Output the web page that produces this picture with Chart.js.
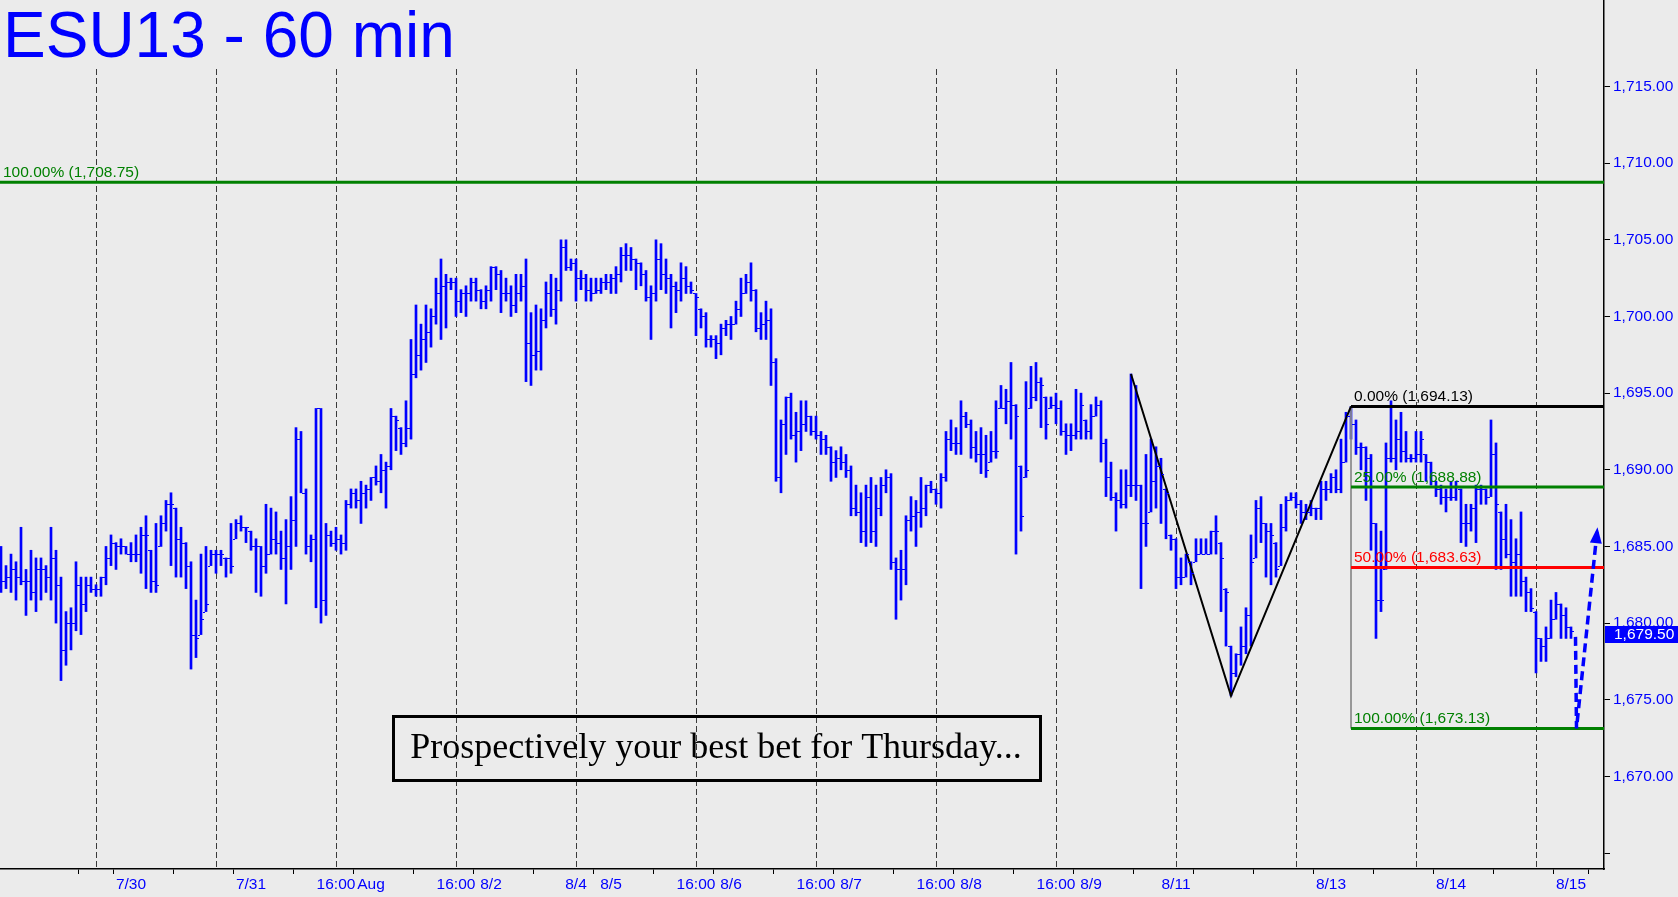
<!DOCTYPE html>
<html>
<head>
<meta charset="utf-8">
<script src="https://cdn.jsdelivr.net/npm/chart.js@4.4.0/dist/chart.umd.min.js"></script>
<style>
  html, body { margin:0; padding:0; background:#ebebeb; }
  #wrap { width:1678px; height:897px; }
</style>
</head>
<body>
<div id="wrap"><canvas id="chartCanvas" width="1678" height="897"></canvas></div>
<script>
// hourly OHLC, ESU13, bar index 0..314
const highs = [1685,1683.75,1684.5,1684,1686.25,1683.5,1684.75,1684.25,1684.25,1683.75,
1686.25,1684.75,1683,1680.75,1681,1684,1683,1683,1683,1682.5,
1683,1685,1685.75,1685.25,1685.5,1685,1685.25,1685.75,1686.25,1687,
1684.75,1686.5,1687,1688,1688.5,1687.5,1686.25,1685.25,1684,1681.5,
1684.5,1685,1684.75,1684.75,1684.75,1684.25,1686.5,1686.75,1687,1686.25,
1686,1685.5,1685,1687.75,1687.5,1687.25,1686,1686.75,1688.25,1692.75,
1692.5,1688.75,1685.75,1694,1694,1686.5,1686,1686.25,1685.75,1688,
1688.75,1688.75,1689.25,1689,1689.5,1690.25,1691,1690.5,1694,1693.5,
1692.75,1694.5,1698.5,1700.75,1699.5,1700.75,1700.5,1702.5,1703.75,1702.75,
1702.5,1702.5,1701.75,1702,1702.5,1702.5,1701.75,1702,1703.25,1703.25,
1703,1702.5,1702,1702.75,1702.75,1703.75,1700.25,1700.75,1700.5,1702.25,
1702.75,1702.5,1705,1705,1703.75,1703.75,1703,1702.75,1702.5,1702.5,
1702.5,1702.75,1702.75,1703.25,1704.5,1704.75,1704.5,1703.75,1703.5,1703,
1702,1705,1704.75,1703.75,1702.75,1702.25,1703.5,1703.25,1702.25,1701.5,
1700.5,1700.25,1698.75,1698.75,1699.5,1699.75,1700,1701,1702.5,1702.75,
1703.5,1701.75,1700.25,1701,1700.5,1697.25,1693.25,1694.75,1695,1693.75,
1694.5,1694.5,1693.5,1693.5,1692.5,1692.25,1691.5,1691.25,1691.5,1691,
1690.25,1689,1688.5,1689,1689.5,1689,1689.5,1690,1689.75,1684.25,
1684.75,1687,1688.25,1688,1689.5,1689,1689.25,1688.75,1689.75,1692.5,
1693.25,1692.75,1694.5,1693.75,1693.25,1692.5,1692.75,1692.25,1692.5,1694.5,
1695.5,1695.25,1697,1694.25,1690.25,1695.75,1696.75,1697,1696,1694.75,
1694.75,1695,1694.5,1693,1693,1695.25,1695,1693.25,1694.25,1694.75,
1694.5,1692,1690.5,1688.5,1690,1690,1696.25,1695.5,1689,1691,
1692,1691.5,1690.75,1688.75,1685.75,1685.5,1684.25,1684.5,1684,1685.5,
1685.5,1685.5,1686,1687,1685.25,1682.25,1678.5,1678,1679.75,1681,
1685.75,1688,1688.25,1686.5,1686.5,1685.25,1687.75,1688.25,1688.5,1688.5,
1688,1687.75,1688,1687.5,1689.25,1689.25,1689.75,1690,1692,1693.75,
1694.13,1693.25,1691.75,1691.5,1691,1686.5,1686,1691.75,1694.5,1693.25,
1693.75,1692.5,1691,1692.5,1692.5,1691,1690.5,1689.25,1689,1688.75,
1689.25,1689.25,1688.75,1687.75,1687.75,1689,1689,1688.75,1693.25,1691.75,
1687.25,1687.75,1686.75,1685.5,1687.25,1683,1682.25,1680.75,1679,1679.75,
1681.5,1682,1681.25,1681,1679.75];

const lows = [1682,1682.25,1682,1681.5,1682.5,1680.5,1681.5,1680.75,1681.5,1682,
1681.5,1680,1676.25,1677.25,1678.25,1679.5,1679.25,1680.75,1682,1681.75,
1681.75,1682.5,1683.75,1683.5,1684.5,1684.5,1684,1684,1683.25,1682.25,
1682,1682,1685,1686,1683.75,1683,1683,1682.25,1677,1677.75,
1679.25,1680.75,1683.75,1683.25,1683.75,1683,1683.25,1685.5,1686,1685.25,
1684.75,1682,1681.75,1683.25,1684.5,1684.5,1683.5,1681.25,1683.5,1685,
1688.5,1684.5,1684,1681,1680,1680.5,1685,1684.75,1684.5,1684.75,
1687.5,1687.5,1686.5,1687.5,1688,1689,1688.5,1687.5,1690,1691.25,
1691,1691.5,1692,1696,1696.5,1697,1698,1699.5,1698.5,1699.25,
1701.75,1700,1700.25,1700,1701,1701,1700.5,1700.5,1701,1701.75,
1700.25,1701,1700,1700.25,1701,1695.75,1695.5,1696.5,1696.5,1699.25,
1700,1699.5,1701,1703,1703,1701,1701.75,1701,1701,1701.5,
1701.5,1701.75,1701.5,1701.5,1702.25,1703,1703,1701.75,1702,1701,
1698.5,1701,1701.75,1701.5,1699.25,1700.25,1701,1701.5,1701.5,1698.75,
1699.25,1698,1698,1697.25,1697.5,1698.75,1698.5,1699.5,1700,1701.5,
1701,1699,1698.5,1698.5,1695.5,1689.25,1688.5,1691,1692,1690.5,
1691.25,1692.5,1692.25,1692,1691,1691,1689.25,1689.5,1690,1689.5,
1687,1687,1685.25,1685,1685.25,1685,1687,1688.5,1683.5,1680.25,
1681.5,1682.5,1686,1685,1686.25,1687,1688.5,1687.75,1687.5,1689.25,
1691.25,1691,1691,1692.75,1690.75,1690.5,1689.75,1689.5,1690.5,1690.75,
1694,1693,1692,1684.5,1686,1689.5,1694,1694.5,1692.75,1692,
1694,1693,1692.25,1691,1691.25,1692,1692,1692,1692,1693.5,
1690.5,1688.25,1688,1686,1687.5,1687.5,1688.25,1688,1682.25,1685,
1687.25,1687.5,1686.5,1685.5,1684.75,1682.25,1682.5,1683,1682.5,1684,
1684.5,1684.5,1684.5,1684.5,1680.75,1678.5,1675.25,1676.5,1677.25,1678,
1678.5,1684.25,1685.25,1683,1682.5,1683,1683.75,1686,1688,1687.5,
1686.5,1686.75,1687,1686.75,1686.75,1688,1688.5,1688.5,1688.5,1690.5,
1692,1691,1690,1688,1684.75,1679,1680.75,1683.5,1690.5,1690,
1690.5,1690.5,1690.5,1690.5,1690.5,1689.25,1689,1688.25,1687.75,1687.25,
1688,1688,1685.25,1685,1686,1685.25,1687.75,1687.75,1688.25,1683.5,
1683.5,1684.25,1681.75,1681.75,1681.75,1680.75,1680.75,1676.75,1677.5,1677.5,
1679,1680.25,1679,1679,1679];

const opens = [1684,1682.75,1683,1683.5,1683,1682.75,1682.75,1682,1683.5,1683.5,
1683,1684.25,1682.5,1678.25,1680,1680,1682.5,1681.25,1682.5,1682.25,
1682.25,1683,1684.25,1685.25,1685,1685,1684.5,1684.5,1684.5,1685.75,
1684.75,1682.75,1685,1686.5,1687.75,1687.5,1685.5,1685.25,1683.75,1679.25,
1679.25,1680.75,1683.75,1684.5,1684.5,1684.25,1684.25,1685.5,1686.5,1686.25,
1686,1685,1685,1683.75,1684.5,1685.5,1685.25,1684.25,1685,1686.75,
1692,1688.5,1685,1685.5,1694,1681.5,1685.75,1685.25,1685.5,1685.25,
1687.75,1688.5,1688,1688.5,1688.75,1689.5,1689.25,1690,1690.25,1693.5,
1692.75,1691.75,1692.75,1696.25,1697.5,1698.5,1699,1700,1701.5,1702,
1702.25,1702.25,1701,1701.5,1701.5,1702.25,1701.75,1701,1701.75,1703.25,
1702.75,1701.5,1701.5,1700.75,1701.5,1702,1698.25,1697.5,1697.75,1699.75,
1701.5,1700.5,1701.75,1704.5,1703.25,1703.5,1702.5,1702.5,1701.75,1701.5,
1701.75,1702.25,1702.25,1702.5,1702.75,1704,1704,1703.75,1703.5,1702.75,
1701.25,1701.5,1703.75,1702.75,1702.5,1702,1701.75,1702.5,1702,1701.5,
1700.5,1700,1698.5,1698.5,1698.25,1699.25,1699.5,1699.5,1700.5,1701.5,
1702.25,1701.75,1699.25,1699.5,1699.75,1697,1689.5,1693,1694.75,1692.25,
1692.5,1693,1693.5,1692.5,1692.25,1692,1691.5,1690.5,1690.75,1690.5,
1690,1687.5,1687.25,1686,1688.25,1686,1687.5,1689,1689.5,1684,
1683.5,1683.5,1686.75,1687,1687.25,1687.5,1689,1688.75,1688.5,1689.5,
1692,1691.75,1691.75,1693.5,1693,1691.5,1691,1691,1690.5,1691.25,
1694,1694,1694.5,1694.25,1690.25,1689.5,1694,1694.75,1695.75,1694.75,
1694,1694.25,1694,1692.5,1692.25,1692.25,1692.5,1693.25,1692.5,1693.5,
1694.25,1691.75,1689.5,1688.25,1688,1687.75,1689,1689,1689,1686.5,
1687.25,1689.25,1690.25,1688.75,1685.75,1685.5,1683,1683,1684,1684,
1684.5,1684.5,1684.5,1686,1685.25,1682.25,1678.5,1676.75,1678,1678.5,
1680.5,1684.25,1687.5,1686.5,1686,1685.25,1683.75,1686.25,1688,1688.25,
1687.75,1687.25,1687.25,1687.5,1687.5,1688.75,1688.75,1689.5,1688.75,1690.5,
1693.5,1693,1691.5,1691.5,1690.75,1686.5,1681.5,1683.5,1690.75,1690.75,
1692,1691.25,1690.75,1690.75,1691,1691,1690.5,1689.25,1688.75,1688.25,
1688.25,1688.25,1688.75,1686.5,1686.5,1687.5,1688.75,1688.75,1688.25,1691,
1687.25,1685.5,1684.5,1684,1684.5,1682.75,1682,1680.75,1679,1678.5,
1679,1680.25,1681.25,1680.5,1679.75];

const closes = [1682.75,1683,1683.5,1683,1682.75,1682.75,1682,1683.5,1683.5,1683,
1684.25,1682.5,1678.25,1680,1680,1682.5,1681.25,1682.5,1682.25,1682.25,
1683,1684.25,1685.25,1685,1685,1684.5,1684.5,1684.5,1685.75,1685.75,
1682.75,1682.5,1686.5,1687.75,1687.75,1685.5,1685.25,1683.75,1679.25,1679,
1680.25,1681.25,1684.5,1684.5,1684.5,1684.25,1683.75,1686.5,1686.25,1686.25,
1685,1685,1683.75,1684.5,1685.5,1685.25,1684.25,1685,1686.75,1692,
1688.5,1685,1685.5,1694,1681.5,1685.75,1685.25,1685.5,1685.25,1687.75,
1688.5,1688,1688.5,1688.75,1689.5,1689.25,1690,1690.25,1693.5,1693.25,
1691.75,1692.75,1696.25,1697.5,1698.5,1699,1700,1701.5,1702,1702.25,
1702.25,1701,1701.5,1701.5,1702.25,1701.75,1701,1701.75,1703.25,1702.75,
1701.5,1701.5,1700.75,1701.5,1702,1698.25,1697.5,1697.75,1699.75,1701.5,
1700.5,1701.75,1704.5,1703.25,1703.5,1702.5,1702.5,1701.75,1701.5,1701.75,
1702.25,1702.25,1702.5,1702.75,1704,1704,1703.75,1703.5,1702.75,1701.25,
1701.5,1703.75,1702.75,1702.5,1702,1701.75,1702.5,1702,1701.75,1701.25,
1700,1698.5,1698.5,1698.25,1699.25,1699.5,1699.5,1700.5,1701.5,1702.25,
1701.75,1699.25,1699.5,1699.75,1697,1689.5,1693,1694.75,1692.25,1692.5,
1693,1693.5,1692.5,1692.25,1692,1691.5,1690.5,1690.75,1690.5,1690,
1687.5,1687.25,1686,1688.25,1686,1687.5,1689,1689.5,1684,1683.5,
1683.5,1686.75,1687,1687.25,1687.5,1689,1688.75,1688.5,1689.5,1692,
1691.75,1691.75,1693.5,1693,1691.5,1691,1691,1690,1691.25,1691.25,
1694,1694.5,1694.25,1693.5,1687,1690,1694.75,1695.75,1695.5,1693,
1694.25,1694,1692.5,1692.25,1692.25,1692.5,1694.25,1692.5,1693.5,1694.25,
1691.75,1689.5,1688.25,1688,1687.75,1689,1689,1689,1686.5,1686.5,
1689.25,1690.25,1689.75,1688.5,1685.5,1683,1683,1684.5,1683.25,1684.5,
1684.5,1684.5,1686,1686,1684.25,1682,1676.75,1678,1678.5,1680.5,
1684,1687.5,1686.5,1686,1685.75,1683.5,1686.25,1688,1688.25,1687.75,
1687.25,1687.25,1687.5,1687.5,1688.75,1688.75,1689.5,1688.75,1690.5,1693.5,
1693,1691.5,1691.5,1690.75,1686.5,1681.5,1681.5,1690.75,1690.75,1692,
1691.25,1690.75,1690.75,1691,1692,1690.5,1689.25,1688.75,1688.25,1688.25,
1688.25,1689.25,1686.5,1686.5,1687.5,1688.75,1688.75,1688.25,1691,1687.75,
1685.5,1684.5,1684,1684.5,1682.75,1682,1681,1679,1678.5,1679,
1680.25,1681.25,1680.5,1679.75,1679.5];

// axis ticks
const yTicks = [1665,1670,1675,1680,1685,1690,1695,1700,1705,1710,1715];
const xTickPos  = [19,26,43,50,67,74,91,98,115,122,139,146,163,170,187,194,211,218,235,242,259,266,283,290,307,314];
const xTickText = ['','7/30','','7/31','16:00','Aug','16:00','8/2','8/4','8/5','16:00','8/6','16:00','8/7','16:00','8/8','16:00','8/9','8/11','','','8/13','','8/14','','8/15'];
const dayBreaks = [19,43,67,91,115,139,163,187,211,235,259,283,307];

// fib retracement levels
const fibLevels = [1708.75, 1694.13, 1688.88, 1683.63, 1673.13];
const fibNames  = ['100.00%', '0.00%', '25.00%', '50.00%', '100.00%'];
const fibStart  = [-0.2, 270, 270, 270, 270];
const fibColors = ['#008000', '#000000', '#008000', '#ff0000', '#008000'];

// swing zigzag and projected path
const zigX = [226, 246, 270];
const zigY = [1696.25, 1675.25, 1694.13];
const arrowX = [314.9, 315.1, 319.3];
const arrowY = [1679.1, 1673.13, 1686.25];

const xMin = -0.2, xMax = 320.6;
const yMin = 1663.96, yMax = 1720.643;
const FONT = '"Liberation Sans", Arial, sans-serif';
const BLUE = '#0000ff';

function fmt(v){
  const s = v.toFixed(2).split('.');
  return s[0].replace(/\B(?=(\d{3})+(?!\d))/g, ',') + '.' + s[1];
}

const bgPlugin = {
  id:'bg',
  beforeDraw(c){
    const g = c.ctx; g.save(); g.fillStyle = '#ebebeb'; g.fillRect(0,0,c.width,c.height); g.restore();
  }
};

const dayLinePlugin = {
  id:'daylines',
  beforeDatasetsDraw(c){
    const g = c.ctx, a = c.chartArea, x = c.scales.x;
    g.save(); g.strokeStyle = '#3a3a3a'; g.lineWidth = 1; g.setLineDash([6,3]);
    dayBreaks.forEach(i => {
      const px = Math.round(x.getPixelForValue(i)) + 0.5;
      g.beginPath(); g.moveTo(px, a.top + 69); g.lineTo(px, a.bottom); g.stroke();
    });
    g.restore();
  }
};

// open/close ticks of the OHLC bars
const tickPlugin = {
  id:'ohlcticks',
  afterDatasetsDraw(c){
    const g = c.ctx, x = c.scales.x, y = c.scales.y;
    g.save(); g.fillStyle = BLUE;
    for (let i = 0; i < closes.length; i++){
      const px = Math.round(x.getPixelForValue(i));
      g.fillRect(px - 3, Math.round(y.getPixelForValue(opens[i])), 2, 1);
      g.fillRect(px + 1, Math.round(y.getPixelForValue(closes[i])), 2, 1);
    }
    g.restore();
  }
};

const overlayPlugin = {
  id:'overlay',
  afterDraw(c){
    const g = c.ctx, x = c.scales.x, y = c.scales.y, a = c.chartArea;
    g.save();
    // arrow head
    const n = arrowX.length;
    const tx = x.getPixelForValue(arrowX[n-1]), ty = y.getPixelForValue(arrowY[n-1]);
    const sx = x.getPixelForValue(arrowX[n-2]), sy = y.getPixelForValue(arrowY[n-2]);
    const ang = Math.atan2(ty - sy, tx - sx);
    g.fillStyle = BLUE;
    g.beginPath();
    g.moveTo(tx, ty);
    g.lineTo(tx - 16*Math.cos(ang) + 6*Math.sin(ang), ty - 16*Math.sin(ang) - 6*Math.cos(ang));
    g.lineTo(tx - 16*Math.cos(ang) - 6*Math.sin(ang), ty - 16*Math.sin(ang) + 6*Math.cos(ang));
    g.closePath(); g.fill();

    // fib labels
    g.font = '15.5px ' + FONT; g.textAlign = 'left'; g.textBaseline = 'alphabetic';
    fibLevels.forEach((lv, k) => {
      const px = k === 0 ? a.left + 3 : x.getPixelForValue(fibStart[k]) + 3;
      g.fillStyle = fibColors[k];
      g.fillText(fibNames[k] + ' (' + fmt(lv) + ')', px, y.getPixelForValue(lv) - 5);
    });

    // title
    g.fillStyle = BLUE; g.font = '64px ' + FONT;
    g.fillText('ESU13 - 60 min', 3, 57);

    // comment box
    g.strokeStyle = '#000'; g.lineWidth = 3;
    g.strokeRect(393.5, 716.5, 647, 64);
    g.fillStyle = '#000'; g.font = '36px "Liberation Serif", "Times New Roman", serif';
    g.textAlign = 'center';
    g.fillText('Prospectively your best bet for Thursday...', 716, 758);

    // last price marker
    const last = closes[closes.length - 1];
    const py = y.getPixelForValue(last);
    g.fillStyle = BLUE;
    g.fillRect(a.right + 1, Math.round(py) - 5, c.width - a.right - 1, 17);
    g.fillStyle = '#fff'; g.font = '15.5px ' + FONT; g.textAlign = 'left'; g.textBaseline = 'middle';
    g.fillText(fmt(last), a.right + 10, py + 4);
    g.restore();
  }
};

const barData = highs.map((h, i) => ({ x: i, y: [lows[i], h] }));

const datasets = [
  { type:'line', label:'path', data: arrowX.map((v,k) => ({x:v, y:arrowY[k]})),
    borderColor: BLUE, borderWidth: 3.5, borderDash:[9,5], pointRadius:0, order:0 },
  { type:'line', label:'zigzag', data: zigX.map((v,k) => ({x:v, y:zigY[k]})),
    borderColor:'#000', borderWidth:2, pointRadius:0, order:1 },
  { type:'line', label:'fibedge', data: [{x:fibStart[1], y:fibLevels[1]}, {x:fibStart[1], y:fibLevels[4]}],
    borderColor:'#8c8c8c', borderWidth:1, pointRadius:0, order:3 }
];
fibLevels.forEach((lv, k) => {
  datasets.push({ type:'line', label:'fib' + k, data:[{x:fibStart[k], y:lv}, {x:xMax, y:lv}],
    borderColor: fibColors[k], borderWidth:3, pointRadius:0, order:2 });
});
datasets.push({ type:'bar', label:'ESU13', data: barData, backgroundColor: BLUE,
  borderWidth:0, barThickness:2, order:5 });

new Chart(document.getElementById('chartCanvas'), {
  type:'line',
  data:{ datasets },
  options:{
    responsive:false, animation:false,
    layout:{ padding:0 },
    elements:{ line:{ tension:0 } },
    plugins:{ legend:{ display:false }, tooltip:{ enabled:false } },
    scales:{
      x:{
        type:'linear', position:'bottom', min:xMin, max:xMax, offset:false,
        afterBuildTicks: s => { s.ticks = xTickPos.map(v => ({ value:v })); },
        afterFit: s => { s.height = 28; s.paddingLeft = 0; s.paddingRight = 0; },
        ticks:{ autoSkip:false, maxRotation:0, color:BLUE, padding:1,
          font:{ family:FONT, size:15.5 },
          callback:(v, idx) => xTickText[idx] },
        grid:{ drawOnChartArea:false, tickLength:5, color:'#000' },
        border:{ color:'#000', width:1.5 }
      },
      y:{
        type:'linear', position:'right', min:yMin, max:yMax, beginAtZero:false,
        afterBuildTicks: s => { s.ticks = yTicks.map(v => ({ value:v })); },
        afterFit: s => { s.width = 74; s.paddingTop = 0; s.paddingBottom = 0; },
        ticks:{ color:BLUE, padding:3, font:{ family:FONT, size:15.5 },
          callback: v => v === yTicks[0] ? '' : fmt(v) },
        grid:{ drawOnChartArea:false, tickLength:6, color:'#000' },
        border:{ color:'#000', width:1.5 }
      }
    }
  },
  plugins:[bgPlugin, dayLinePlugin, tickPlugin, overlayPlugin]
});
</script>
</body>
</html>
